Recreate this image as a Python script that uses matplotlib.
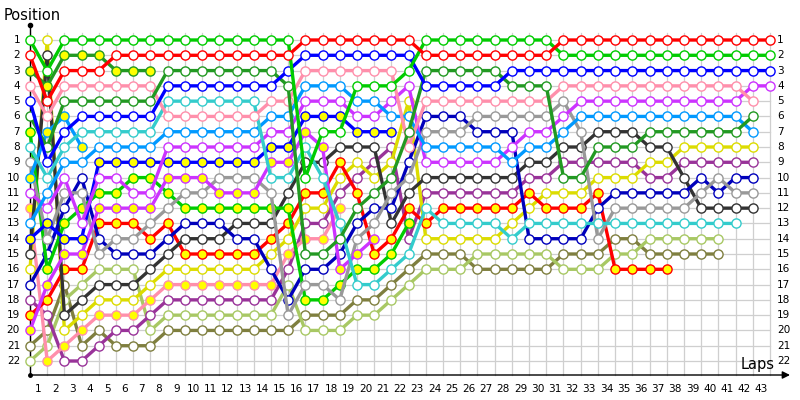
import matplotlib
matplotlib.use("Agg")
import matplotlib.pyplot as plt

# ---- data: position of each car at each lap mark (index 0 = grid) ----
laps = list(range(0, 44))
lap_labels = [str(n) for n in range(1, 44)]
positions = list(range(1, 23))

G = [1, 3, 1, 1, 1, 1, 1, 1, 1, 1, 1, 1, 1, 1, 1, 1, 10, 7, 7, 4, 4, 4, 3,
     1, 1, 1, 1, 1, 1, 1, 1, 2, 2, 2, 2, 2, 2, 2, 2, 2, 2, 2, 2, 2]
R = [2, 5, 3, 3, 3, 2, 2, 2, 2, 2, 2, 2, 2, 2, 2, 2, 1, 1, 1, 1, 1, 1, 1,
     2, 2, 2, 2, 2, 2, 2, 2, 1, 1, 1, 1, 1, 1, 1, 1, 1, 1, 1, 1, 1]
B = [5, 9, 7, 6, 6, 6, 6, 6, 4, 4, 4, 4, 4, 4, 4, 3, 2, 2, 2, 2, 2, 2, 2,
     4, 4, 4, 4, 4, 3, 3, 3, 3, 3, 3, 3, 3, 3, 3, 3, 3, 3, 3, 3, 3]
DG = [6, 8, 5, 5, 5, 5, 5, 5, 3, 3, 3, 3, 3, 3, 3, 4, 15, 15, 14, 12, 11, 10, 7,
      3, 3, 3, 3, 3, 4, 4, 4, 10, 10, 8, 8, 8, 7, 7, 7, 7, 7, 7, 6]
P = [4, 6, 4, 4, 4, 4, 4, 4, 6, 6, 6, 6, 6, 6, 5, 5, 3, 3, 3, 3, 3, 3, 8,
     5, 5, 5, 5, 5, 5, 5, 5, 4, 4, 4, 4, 4, 4, 4, 4, 4, 4, 4, 5]
C = [8, 10, 8, 7, 7, 7, 7, 7, 5, 5, 5, 5, 5, 5, 10, 10, 8, 10, 13, 17, 17, 16, 15,
     12, 13, 13, 13, 13, 14, 13, 13, 13, 13, 13, 13, 13, 13, 13, 13, 13, 13, 13]
A = [13, 11, 9, 9, 8, 8, 8, 8, 7, 7, 7, 7, 7, 7, 6, 6, 4, 4, 4, 5, 5, 6, 6,
     8, 8, 8, 8, 8, 9, 8, 8, 7, 6, 6, 6, 6, 6, 6, 6, 6, 6, 6, 7]
V = [11, 12, 10, 13, 10, 10, 11, 11, 8, 8, 8, 8, 8, 8, 7, 7, 5, 5, 5, 6, 6, 5, 4,
     9, 9, 9, 9, 9, 8, 7, 7, 6, 5, 5, 5, 5, 5, 5, 5, 5, 5, 5, 4, 4]
By = [14, 13, 14, 14, 9, 9, 9, 9, 9, 9, 9, 9, 9, 9, 8, 8, 6, 6, 6, 7, 7, 7]
Vy = [20, 17, 15, 15, 12, 12, 12, 12, 10, 10, 10, 11, 11, 11, 9, 9, 7, 8, 16, 15, 14]
Gr = [9, 14, 11, 11, 15, 14, 14, 13, 12, 11, 11, 10, 10, 10, 11, 19, 17, 17, 18, 14, 13, 11, 10,
      7, 7, 7, 6, 6, 6, 6, 6, 5, 7, 14, 12, 12, 12, 12, 12, 11, 10, 11, 11]
Gy = [7, 16, 13, 12, 11, 11, 10, 10, 11, 12, 12, 12, 12, 12, 12, 12, 18, 18, 17, 16, 16, 15, 13]
N = [17, 15, 12, 10, 14, 15, 15, 15, 14, 13, 13, 13, 14, 14, 16, 18, 16, 16, 15, 13, 12, 12, 9,
     6, 6, 6, 7, 7, 7, 14, 14, 14, 14, 12, 11, 11, 11, 11, 11, 10, 11, 10, 10]
K = [15, 2, 19, 18, 17, 17, 17, 16, 15, 14, 14, 14, 13, 13, 13, 11, 9, 9, 8, 8, 8, 13, 11,
     10, 10, 10, 10, 10, 10, 9, 9, 8, 8, 7, 7, 7, 8, 8, 10, 12, 12, 12, 12]
Ry = [19, 18, 16, 16, 13, 13, 13, 14, 13, 15, 15, 15, 15, 15, 14, 13, 11, 11, 9, 11, 15, 14, 12,
      13, 12, 12, 12, 12, 12, 11, 12, 12, 12, 11, 16, 16, 16, 16]
Y = [16, 1, 20, 19, 18, 18, 18, 17, 16, 16, 16, 16, 16, 16, 15, 14, 12, 12, 10, 9, 10, 9, 5,
     14, 14, 14, 14, 14, 13, 12, 11, 11, 11, 10, 10, 10, 9, 9, 8, 8, 8, 8, 8]
Py = [12, 22, 21, 20, 19, 19, 19, 18, 17, 17, 17, 17, 17, 17, 17, 15, 14, 14, 12]
Pu = [18, 19, 22, 22, 21, 20, 20, 19, 18, 18, 18, 18, 18, 18, 18, 16, 13, 13, 11, 10, 9, 8, 14,
      11, 11, 11, 11, 11, 11, 10, 10, 9, 9, 9, 9, 9, 10, 10, 9, 9, 9, 9, 9]
O = [21, 20, 17, 21, 20, 21, 21, 21, 20, 20, 20, 20, 20, 20, 20, 20, 19, 19, 19, 18, 18, 17, 16,
     15, 15, 15, 16, 16, 16, 16, 16, 15, 15, 15, 14, 14, 15, 15, 15, 15, 15]
LG = [22, 21, 18, 17, 16, 16, 16, 20, 19, 19, 19, 19, 19, 19, 19, 17, 20, 20, 20, 19, 19, 18, 17,
      16, 16, 16, 15, 15, 15, 15, 15, 16, 16, 16, 15, 15, 14, 14, 14, 14, 14]
DGy = [3, 4, 2, 2, 2, 3, 3, 3]
Ay = [10, 7, 6, 8]

# (series, line colour, marker fill)
cars = [
    (O, "#7f7f3f", "white"), (LG, "#a8c864", "white"), (Pu, "#993399", "white"),
    (Py, "#ff8fab", "#ffff00"), (Y, "#dcdc00", "white"), (Ry, "#ff0000", "#ffff00"),
    (K, "#333333", "white"), (N, "#0000bb", "white"), (Gy, "#00cc00", "#ffff00"),
    (Gr, "#999999", "white"), (Vy, "#cc33ff", "#ffff00"), (By, "#0000ff", "#ffff00"),
    (Ay, "#0099ff", "#ffff00"), (DGy, "#229922", "#ffff00"),
    (V, "#cc33ff", "white"), (A, "#0099ff", "white"), (C, "#33cccc", "white"),
    (P, "#ff8fab", "white"), (DG, "#229922", "white"), (B, "#0000ff", "white"),
    (G, "#00cc00", "white"), (R, "#ff0000", "white"),
]

# ---- figure geometry (pixel mapping) ----
X0, DX = 30.0, 17.209   # pixel of lap mark 0, pixels per lap
Y1, DY = 40.0, 15.286   # pixel of position 1, pixels per position

def px(x):
    return (x - X0) / DX

def py(y):
    return 1 + (y - Y1) / DY

fig = plt.figure(figsize=(8, 4), dpi=100)
ax = fig.add_axes([0, 0, 1, 1])
ax.set_xlim(px(0), px(800))
ax.set_ylim(py(400), py(0))
ax.axis("off")

gcol = "#cfcfcf"
for k in laps:
    ax.plot([k, k], [py(33), py(375)], color=gcol, lw=0.9, zorder=1)
for p in positions:
    ax.plot([0, laps[-1]], [p, p], color=gcol, lw=0.9, zorder=1)

# axes
ax.plot([0, 0], [py(25), py(375)], color="black", lw=1.0, zorder=2)
ax.plot([0], [py(25)], marker="o", ms=3, color="black", zorder=2)
ax.plot([0], [py(375)], marker="o", ms=2.5, color="black", zorder=2)
ax.annotate("", xy=(px(790), py(375)), xytext=(0, py(375)),
            arrowprops=dict(arrowstyle="-|>", color="black", lw=1.0,
                            mutation_scale=11, shrinkA=0, shrinkB=0), zorder=2)

for s, col, fill in cars:
    xs = laps[:len(s)]
    ax.plot(xs, s, color=col, lw=2.4, solid_joinstyle="miter",
            solid_capstyle="butt", marker="o", ms=6.6, mfc=fill,
            mec=col, mew=1.0, zorder=3)

fs = 7.6
for p in positions:
    ax.text(px(20), p, str(p), ha="right", va="center", fontsize=fs,
            family="DejaVu Sans")
    ax.text(px(777), p, str(p), ha="left", va="center", fontsize=fs,
            family="DejaVu Sans")
for n, lab in enumerate(lap_labels, start=1):
    ax.text(n - 0.5, py(389), lab, ha="center", va="center", fontsize=fs,
            family="DejaVu Sans")

ax.text(px(4), py(16), "Position", ha="left", va="center", fontsize=10.5,
        family="DejaVu Sans")
ax.text(px(775), py(364), "Laps", ha="right", va="center", fontsize=10.5,
        family="DejaVu Sans")

fig.savefig("out.png", dpi=100)
